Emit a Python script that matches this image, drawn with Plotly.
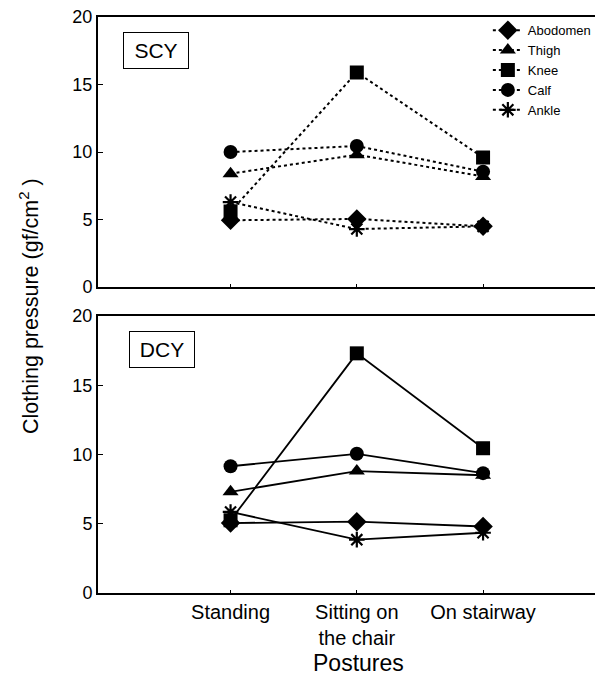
import plotly.graph_objects as go

postures = ["Standing", "Sitting on<br>the chair", "On stairway"]
parts = ["Abodomen", "Thigh", "Knee", "Calf", "Ankle"]
symbols = ["diamond", "triangle-up", "square", "circle", "asterisk-open"]

scy_abdomen = [4.95, 5.05, 4.5]
scy_thigh = [8.4, 9.8, 8.2]
scy_knee = [5.6, 15.9, 9.6]
scy_calf = [10.0, 10.45, 8.55]
scy_ankle = [6.3, 4.3, 4.5]

dcy_abdomen = [5.05, 5.15, 4.8]
dcy_thigh = [7.3, 8.8, 8.5]
dcy_knee = [5.25, 17.3, 10.45]
dcy_calf = [9.15, 10.05, 8.65]
dcy_ankle = [5.85, 3.85, 4.35]

scy = [scy_abdomen, scy_thigh, scy_knee, scy_calf, scy_ankle]
dcy = [dcy_abdomen, dcy_thigh, dcy_knee, dcy_calf, dcy_ankle]

FONT = "Liberation Sans, Arial, sans-serif"
xpos = [0, 1, 2]

fig = go.Figure()


def marker_for(sym):
    if sym == "asterisk-open":
        return dict(symbol=sym, size=13, color="black", line=dict(color="black", width=2.2))
    size = 14 if sym != "diamond" else 15
    return dict(symbol=sym, size=size, color="black", line=dict(width=0))


for name, sym, vals in zip(parts, symbols, scy):
    fig.add_trace(go.Scatter(
        x=xpos, y=vals, name=name, mode="lines+markers",
        line=dict(color="black", width=2, dash="dot"),
        marker=marker_for(sym), xaxis="x", yaxis="y", showlegend=True))

for name, sym, vals in zip(parts, symbols, dcy):
    fig.add_trace(go.Scatter(
        x=xpos, y=vals, name=name, mode="lines+markers",
        line=dict(color="black", width=1.8),
        marker=marker_for(sym), xaxis="x2", yaxis="y2", showlegend=False))

axis_common = dict(showline=True, linecolor="black", linewidth=2, showgrid=False,
                   zeroline=False, ticks="inside", tickcolor="black")

fig.update_layout(
    width=595, height=670,
    margin=dict(l=90, r=0, t=9, b=85),
    paper_bgcolor="white", plot_bgcolor="white",
    font=dict(family=FONT, color="black"),
    xaxis=dict(domain=[0, 1], range=[-1.05, 2.95], tickvals=xpos,
               anchor="y", mirror=True, ticklen=3, showticklabels=False, **axis_common),
    yaxis=dict(domain=[0.531, 1], range=[0, 20], tickvals=[0, 5, 10, 15, 20],
               anchor="x", ticklen=5, tickfont=dict(size=18), ticklabeloverflow="allow",
               **axis_common),
    xaxis2=dict(domain=[0, 1], range=[-1.05, 2.95], tickvals=xpos, ticktext=postures,
                anchor="y2", mirror=True, ticklen=3, tickfont=dict(size=20), **axis_common),
    yaxis2=dict(domain=[0, 0.481], range=[0, 20], tickvals=[0, 5, 10, 15, 20],
                anchor="x2", ticklen=5, tickfont=dict(size=18), **axis_common),
    legend=dict(x=0.772, y=1.003, xanchor="left", yanchor="top", font=dict(size=13),
                bgcolor="rgba(0,0,0,0)", borderwidth=0),
    annotations=[
        dict(text="SCY", xref="paper", yref="paper", x=0.1149, y=0.9418, showarrow=False,
             font=dict(size=21), bordercolor="black", borderwidth=1, borderpad=2,
             width=60, height=31, xanchor="center", yanchor="middle"),
        dict(text="DCY", xref="paper", yref="paper", x=0.1267, y=0.4219, showarrow=False,
             font=dict(size=21), bordercolor="black", borderwidth=1, borderpad=2,
             width=60, height=31, xanchor="center", yanchor="middle"),
        dict(text="Clothing pressure (gf/cm<sup>2</sup> )", xref="paper", yref="paper",
             x=-0.137, y=0.498, textangle=-90, showarrow=False, font=dict(size=21.5),
             xanchor="center", yanchor="middle"),
        dict(text="Postures", xref="paper", yref="paper", x=0.515, y=-0.122,
             showarrow=False, font=dict(size=23), xanchor="center", yanchor="middle"),
    ],
)

fig.write_html("out.html")
